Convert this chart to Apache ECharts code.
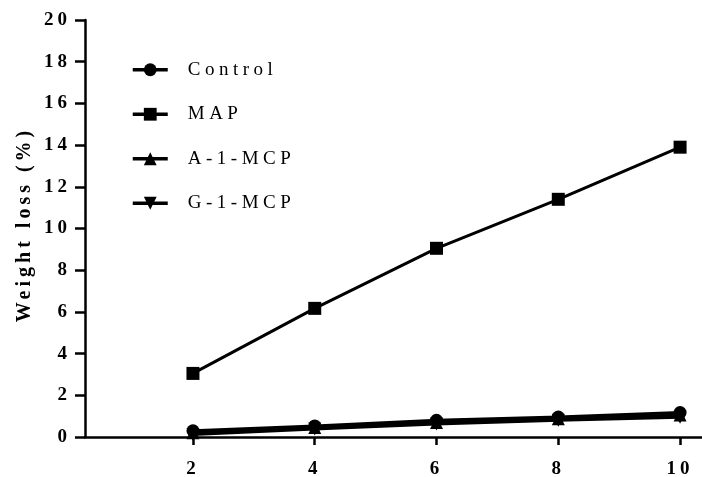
<!DOCTYPE html>
<html><head><meta charset="utf-8">
<script src="https://cdn.jsdelivr.net/npm/echarts@6/dist/echarts.min.js"></script>
<style>html,body{margin:0;padding:0;background:#fff}#c{width:702px;height:477px}</style>
</head><body><div id="c"></div>
<script>
const days = [2, 4, 6, 8, 10];
const control = [0.3, 0.53, 0.8, 0.96, 1.17];
const map = [3.05, 6.17, 9.05, 11.4, 13.9];
const a1mcp = [0.2, 0.45, 0.7, 0.88, 1.05];
const g1mcp = [0.12, 0.38, 0.62, 0.8, 0.95];
const xTicks = [2, 4, 6, 8, 10];
const seriesNames = ['Control', 'MAP', 'A-1-MCP', 'G-1-MCP'];

// letter spacing (the reference text is drawn widely spaced)
const spacingFor = f => /bold/.test(f) ? '4px' : (/19px/.test(f) ? '4.5px' : '0px');
(function () {
  const P = CanvasRenderingContext2D.prototype;
  const of = P.fillText, om = P.measureText;
  P.fillText = function (t, x, y, m) {
    try { this.letterSpacing = spacingFor(this.font); } catch (e) {}
    return m === undefined ? of.call(this, t, x, y) : of.call(this, t, x, y, m);
  };
  P.measureText = function (t) {
    try { this.letterSpacing = spacingFor(this.font); } catch (e) {}
    return om.call(this, t);
  };
})();

const font = '"Liberation Serif", "Times New Roman", serif';
const invTri = 'path://M0,0 L10,0 L5,9 Z';
const symbols = ['circle', 'rect', 'triangle', invTri];
const sizes = [13, 13, 13, 13];
const datasets = [control, map, a1mcp, g1mcp];

const chart = echarts.init(document.getElementById('c'), null, {renderer: 'canvas'});
chart.setOption({
  animation: false,
  backgroundColor: '#fff',
  grid: {left: 85, right: 0, top: 20, bottom: 40, containLabel: false, outerBoundsMode: 'none'},
  legend: {
    orient: 'vertical', left: 126, top: 53, itemGap: 21,
    itemWidth: 35, itemHeight: 16,
    lineStyle: {width: 3.5},
    textStyle: {fontFamily: font, fontSize: 19, color: '#000', padding: [0, 0, 0, 15]},
    data: seriesNames
  },
  xAxis: {
    type: 'value', min: 0.227, max: 10.36,
    axisLine: {show: true, lineStyle: {color: '#000', width: 2.5}},
    axisTick: {show: true, customValues: xTicks, length: 8, lineStyle: {color: '#000', width: 2.5}},
    axisLabel: {customValues: xTicks, fontFamily: font, fontWeight: 'bold', fontSize: 19, color: '#000', margin: 21},
    splitLine: {show: false}
  },
  yAxis: {
    type: 'value', min: 0, max: 20, interval: 2,
    name: 'Weight loss (%)', nameLocation: 'middle', nameGap: 48, nameMoveOverlap: false,
    nameTextStyle: {fontFamily: font, fontWeight: 'bold', fontSize: 20, color: '#000', padding: [0, 0, 0, 8]},
    axisLine: {show: true, lineStyle: {color: '#000', width: 2.5}},
    axisTick: {show: true, length: 10, lineStyle: {color: '#000', width: 2.5}},
    axisLabel: {fontFamily: font, fontWeight: 'bold', fontSize: 19, color: '#000', margin: 14},
    splitLine: {show: false}
  },
  series: seriesNames.map((n, i) => ({
    name: n, type: 'line',
    data: days.map((d, j) => [d, datasets[i][j]]),
    symbol: symbols[i], symbolSize: sizes[i],
    itemStyle: {color: '#000'},
    lineStyle: {color: '#000', width: 3},
    z: 4 - i
  }))
});
</script></body></html>
